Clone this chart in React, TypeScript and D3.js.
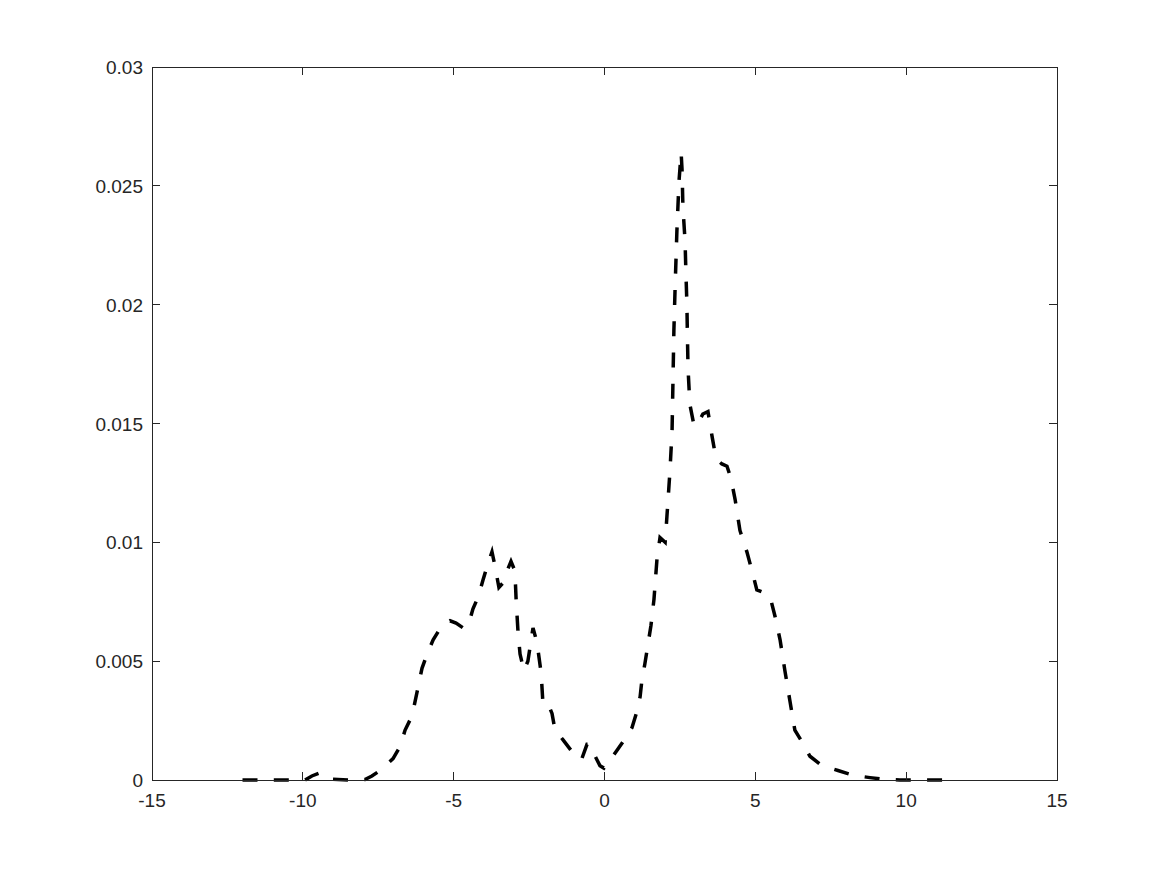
import * as d3 from 'd3'
import React from 'react'

// density estimate
const xs = [
  -12.0, -10.4, -9.93, -9.7, -9.44, -9.1, -8.44, -7.94, -7.71, -7.44, -7.01, -6.78, -6.61, -6.38,
  -6.18, -6.05, -5.88, -5.68, -5.39, -5.12, -4.92, -4.69, -4.52, -4.36, -4.19, -4.03, -3.89,
  -3.73, -3.63, -3.5, -3.36, -3.23, -3.1, -2.97, -2.93, -2.87, -2.8, -2.67, -2.54, -2.37, -2.24,
  -2.1, -2.04, -1.87, -1.74, -1.64, -1.38, -1.14, -0.91, -0.75, -0.58, -0.48, -0.31, -0.15,
  -0.02, 0.28, 0.61, 0.91, 1.08, 1.18, 1.24, 1.34, 1.44, 1.54, 1.64, 1.74, 1.84, 2.01, 2.07,
  2.17, 2.24, 2.27, 2.3, 2.34, 2.4, 2.47, 2.54, 2.57, 2.6, 2.67, 2.7, 2.73, 2.75, 2.77, 2.83,
  2.97, 3.1, 3.26, 3.43, 3.56, 3.7, 3.89, 4.06, 4.19, 4.33, 4.49, 4.72, 4.89, 5.05, 5.25, 5.49,
  5.65, 5.82, 5.98, 6.15, 6.31, 6.55, 6.81, 7.21, 7.74, 8.24, 8.8, 9.3, 9.79, 11.4
]
const density = [
  0, 0, 0, 0.00017, 0.0003, 0.00004, 0, 0.00002, 0.00017, 0.0004, 0.0009, 0.0014, 0.0021, 0.0027,
  0.0039, 0.0047, 0.0053, 0.0059, 0.0065, 0.0067, 0.0066, 0.0064, 0.0065, 0.0072, 0.0077, 0.0084,
  0.009, 0.0096, 0.009, 0.0081, 0.0083, 0.0088, 0.0092, 0.0088, 0.0076, 0.0063, 0.0053, 0.0046,
  0.005, 0.0064, 0.0058, 0.0045, 0.0032, 0.0032, 0.0028, 0.0021, 0.0017, 0.0013, 0.0009, 0.0009,
  0.0015, 0.0015, 0.001, 0.0006, 0.0005, 0.001, 0.0016, 0.0022, 0.0029, 0.0035, 0.0042, 0.0049,
  0.0057, 0.0065, 0.0076, 0.0093, 0.0102, 0.01, 0.0111, 0.013, 0.0147, 0.0168, 0.0189, 0.0207,
  0.0231, 0.0252, 0.0264, 0.0257, 0.0241, 0.0227, 0.0213, 0.0201, 0.0186, 0.0173, 0.0158, 0.0149,
  0.015, 0.0154, 0.0155, 0.0145, 0.0135, 0.0133, 0.0132, 0.0127, 0.0118, 0.0105, 0.0096, 0.0088,
  0.008, 0.0079, 0.0077, 0.0069, 0.0059, 0.0046, 0.0033, 0.0021, 0.0016, 0.001, 0.0006, 0.0004,
  0.0002, 0.0001, 0.00002, 0, 0
]
const xTicks = [-15, -10, -5, 0, 5, 10, 15]
const yTicks = [0, 0.005, 0.01, 0.015, 0.02, 0.025, 0.03]

const W = 1167, H = 875
const left = 152, right = 1057, top = 67, bottom = 780
const ink = '#262626'
const font = '"Liberation Sans", Arial, Helvetica, sans-serif'

export default function App() {
  const x = d3.scaleLinear().domain([-15, 15]).range([left, right])
  const y = d3.scaleLinear().domain([0, 0.03]).range([bottom, top])

  const pts: [number, number][] = xs.map((v, i) => [v, density[i]])
  const line = d3.line<[number, number]>()
    .x(d => x(d[0]))
    .y(d => y(d[1]))

  const tick = 8

  return (
    <svg width={W} height={H} style={{ position: 'absolute', left: 0, top: 0, background: '#fff' }}>
      <rect x={0} y={0} width={W} height={H} fill="#fff" />
      <path d={line(pts) || ''} fill="none" stroke="#000" strokeWidth={3.5}
        strokeDasharray="15,16.3" />

      <rect x={left} y={top} width={right - left} height={bottom - top}
        fill="none" stroke={ink} strokeWidth={1} shapeRendering="crispEdges" />

      {xTicks.map(t => (
        <g key={'x' + t}>
          <line x1={x(t)} x2={x(t)} y1={bottom} y2={bottom - tick} stroke={ink} shapeRendering="crispEdges" />
          <line x1={x(t)} x2={x(t)} y1={top} y2={top + tick} stroke={ink} shapeRendering="crispEdges" />
          <text x={x(t)} y={bottom + 27} textAnchor="middle" fontFamily={font} fontSize={19} fill={ink}>
            {t}
          </text>
        </g>
      ))}
      {yTicks.map(t => (
        <g key={'y' + t}>
          <line x1={left} x2={left + tick} y1={y(t)} y2={y(t)} stroke={ink} shapeRendering="crispEdges" />
          <line x1={right} x2={right - tick} y1={y(t)} y2={y(t)} stroke={ink} shapeRendering="crispEdges" />
          <text x={left - 9} y={y(t) + 7} textAnchor="end" fontFamily={font} fontSize={19} fill={ink}>
            {String(t)}
          </text>
        </g>
      ))}
    </svg>
  )
}
